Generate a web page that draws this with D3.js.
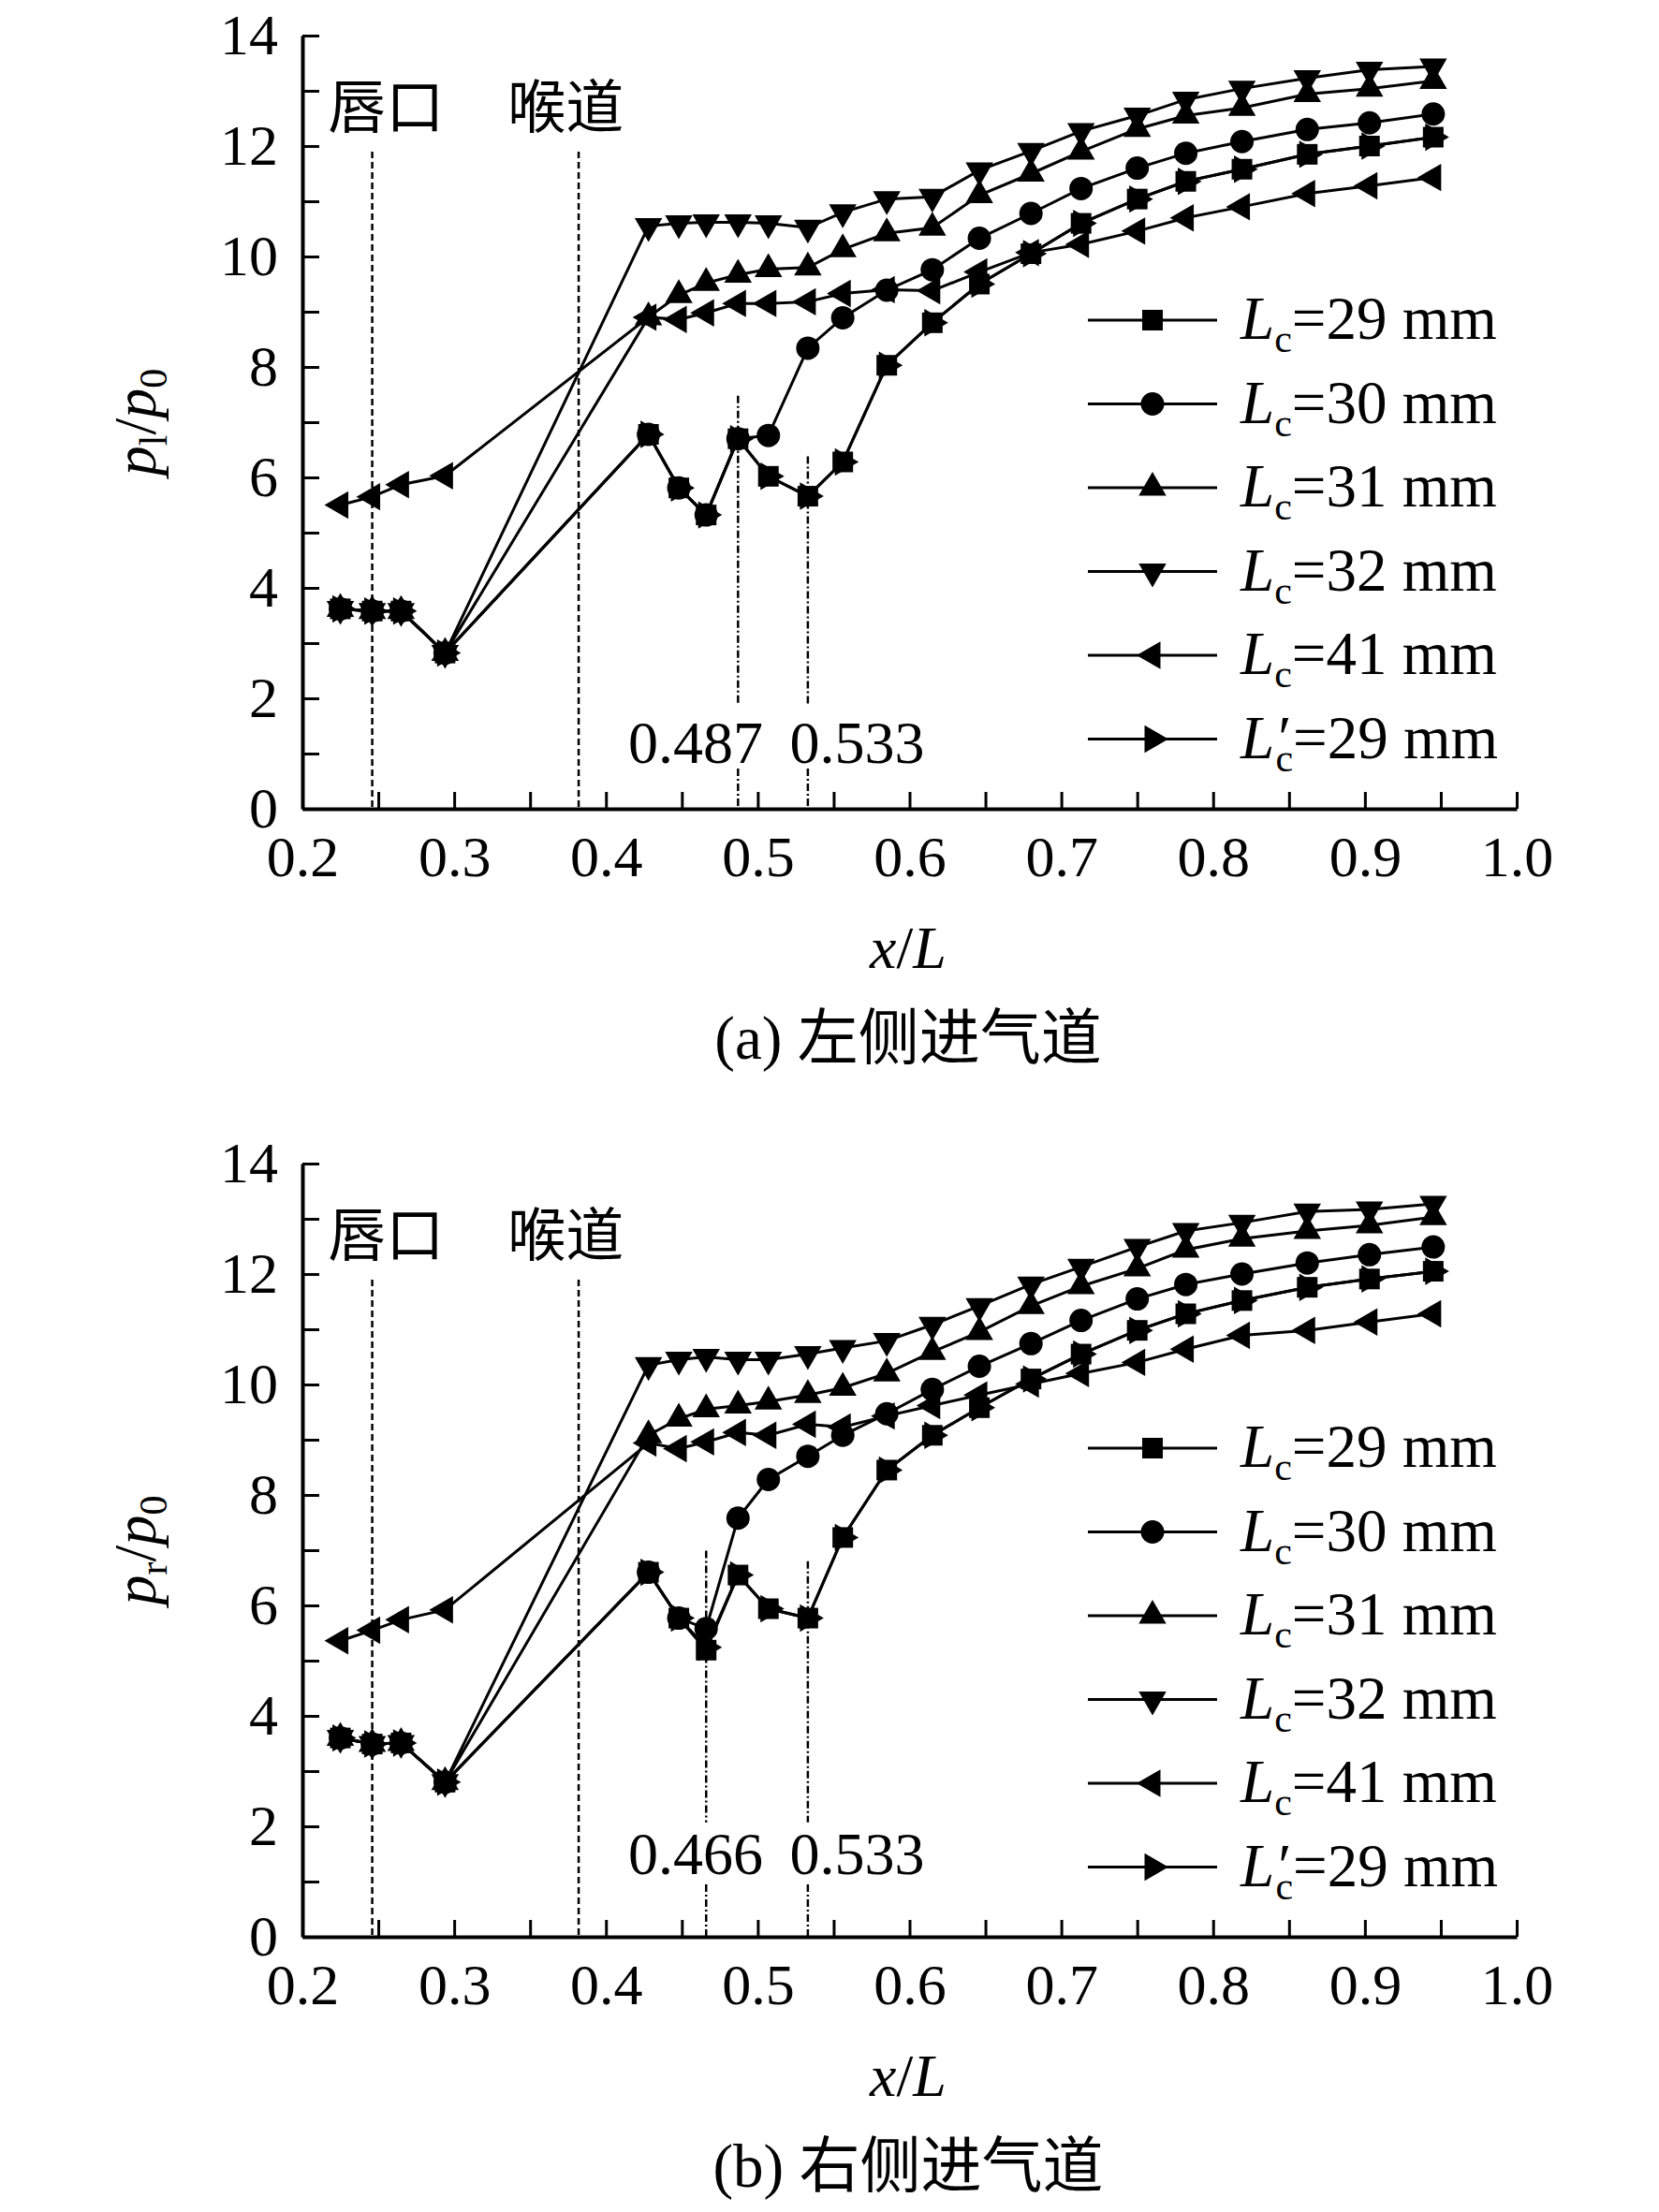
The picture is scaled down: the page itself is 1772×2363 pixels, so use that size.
<!DOCTYPE html>
<html>
<head>
<meta charset="utf-8">
<script src="https://cdnjs.cloudflare.com/ajax/libs/d3/7.8.5/d3.min.js"></script>
<style>
  body { margin: 0; background: #fff; }
  svg { display: block; }
  text { font-family: "Liberation Serif", "Times New Roman", "Noto Sans CJK SC", serif; fill: #000; }
</style>
</head>
<body>
<svg id="chart"></svg>
<script>
// measurement stations x/L (shared by every curve)
const xPos = [0.225, 0.246, 0.265, 0.294, 0.428, 0.448, 0.466, 0.487, 0.507, 0.533, 0.556,
              0.585, 0.615, 0.646, 0.680, 0.713, 0.750, 0.782, 0.819, 0.862, 0.903, 0.945]

// (a) left inlet, p_l/p_0
const left29  = [3.62, 3.58, 3.58, 2.82, 6.78, 5.81, 5.32, 6.70, 6.02, 5.66, 6.28, 8.03, 8.80, 9.50, 10.05, 10.60, 11.04, 11.36, 11.58, 11.85, 12.00, 12.16]
const left30  = [3.62, 3.58, 3.58, 2.82, 6.78, 5.81, 5.32, 6.70, 6.76, 8.34, 8.89, 9.39, 9.76, 10.33, 10.78, 11.23, 11.60, 11.87, 12.08, 12.30, 12.42, 12.58]
const left31  = [3.62, 3.58, 3.58, 2.82, 8.90, 9.30, 9.52, 9.67, 9.77, 9.80, 10.13, 10.42, 10.52, 11.11, 11.50, 11.90, 12.31, 12.55, 12.69, 12.94, 13.04, 13.18]
const left32  = [3.62, 3.58, 3.58, 2.82, 10.55, 10.60, 10.62, 10.62, 10.60, 10.52, 10.80, 11.04, 11.08, 11.56, 11.91, 12.27, 12.55, 12.84, 13.04, 13.23, 13.38, 13.44]
const left41  = [5.50, 5.65, 5.87, 6.03, 8.90, 8.86, 8.98, 9.15, 9.15, 9.18, 9.33, 9.40, 9.38, 9.72, 10.07, 10.22, 10.46, 10.70, 10.90, 11.14, 11.28, 11.43]
const left29p = [3.62, 3.58, 3.58, 2.82, 6.78, 5.81, 5.32, 6.70, 6.02, 5.66, 6.28, 8.03, 8.80, 9.50, 10.05, 10.60, 11.04, 11.36, 11.58, 11.85, 12.00, 12.16]

// (b) right inlet, p_r/p_0
const right29  = [3.60, 3.49, 3.51, 2.80, 6.60, 5.77, 5.19, 6.55, 5.94, 5.77, 7.23, 8.45, 9.08, 9.58, 10.10, 10.55, 10.98, 11.28, 11.52, 11.76, 11.91, 12.05]
const right30  = [3.60, 3.49, 3.51, 2.80, 6.60, 5.77, 5.58, 7.58, 8.28, 8.70, 9.08, 9.47, 9.91, 10.33, 10.74, 11.16, 11.55, 11.81, 12.00, 12.20, 12.35, 12.49]
const right31  = [3.60, 3.49, 3.51, 2.80, 9.08, 9.38, 9.55, 9.62, 9.69, 9.81, 9.94, 10.20, 10.59, 10.95, 11.42, 11.78, 12.10, 12.44, 12.64, 12.78, 12.88, 13.03]
const right32  = [3.60, 3.49, 3.51, 2.80, 10.35, 10.45, 10.50, 10.45, 10.45, 10.55, 10.66, 10.79, 11.08, 11.42, 11.81, 12.13, 12.49, 12.78, 12.93, 13.13, 13.17, 13.27]
const right41  = [5.36, 5.55, 5.74, 5.92, 8.94, 8.84, 8.96, 9.13, 9.08, 9.28, 9.23, 9.43, 9.62, 9.81, 10.01, 10.20, 10.40, 10.64, 10.89, 10.98, 11.13, 11.28]
const right29p = [3.60, 3.49, 3.51, 2.80, 6.60, 5.77, 5.24, 6.55, 5.94, 5.77, 7.23, 8.45, 9.08, 9.58, 10.10, 10.55, 10.98, 11.28, 11.52, 11.76, 11.91, 12.05]

// legend entries: Lc value, primed or not, marker
const legendLc    = ['29', '30', '31', '32', '41', '29']
const legendPrime = [false, false, false, false, false, true]
const markerTypes = ['square', 'circle', 'up', 'down', 'left', 'right']

const xTicks = [0.2, 0.3, 0.4, 0.5, 0.6, 0.7, 0.8, 0.9, 1.0]
const yTicks = [0, 2, 4, 6, 8, 10, 12, 14]

// reference lines: lip and throat (dashed), shock positions (dash-dot)
const stationNames = ['唇口', '喉道']
const stationX = [0.246, 0.382]
const stationNameX = [0.255, 0.3735]

const W = 1772, H = 2363

const svg = d3.select('#chart').attr('width', W).attr('height', H)
svg.append('rect').attr('width', W).attr('height', H).attr('fill', '#fff')

const panels = [
  { top: 38, series: [left29, left30, left31, left32, left41, left29p],
    shockX: [0.487, 0.533], shockTop: [7.48, 6.38], shockLabelY: 0.83, gap: [0.73, 1.9],
    sub: 'l', caption: '(a) 左侧进气道' },
  { top: 1243, series: [right29, right30, right31, right32, right41, right29p],
    shockX: [0.466, 0.533], shockTop: [6.99, 6.80], shockLabelY: 1.14, gap: [0.95, 2.07],
    sub: 'r', caption: '(b) 右侧进气道' }
]

function markerPath(type) {
  if (type === 'square') return 'M-11,-11H11V11H-11Z'
  if (type === 'circle') return 'M12.5,0A12.5,12.5 0 1,1 -12.5,0A12.5,12.5 0 1,1 12.5,0Z'
  const r = 17
  const pts = [[0, -r], [r * 0.866, r * 0.5], [-r * 0.866, r * 0.5]]
  const ang = { up: 0, down: 180, left: -90, right: 90 }[type] * Math.PI / 180
  return 'M' + pts.map(([px, py]) => [
    (px * Math.cos(ang) - py * Math.sin(ang)).toFixed(2),
    (px * Math.sin(ang) + py * Math.cos(ang)).toFixed(2)
  ].join(',')).join('L') + 'Z'
}

panels.forEach(p => {
  const x = d3.scaleLinear().domain([0.2, 1.0]).range([323, 1620])
  const y = d3.scaleLinear().domain([0, 14]).range([p.top + 826, p.top])
  const g = svg.append('g')

  // axes, ticks pointing inward
  const xAxis = d3.axisBottom(x)
    .tickValues(d3.range(0, 17).map(i => 0.2 + i * 0.05))
    .tickSizeInner(-18).tickSizeOuter(0).tickPadding(28)
    .tickFormat(d => xTicks.some(t => Math.abs(t - d) < 1e-6) ? d3.format('.1f')(d) : '')
  const yAxis = d3.axisLeft(y)
    .tickValues(d3.range(0, 15))
    .tickSizeInner(-18).tickSizeOuter(0).tickPadding(26)
    .tickFormat(d => yTicks.includes(d) ? d : '')

  const gx = g.append('g').attr('transform', `translate(0,${y(0)})`).call(xAxis)
  const gy = g.append('g').attr('transform', `translate(${x(0.2)},0)`).call(yAxis)
  ;[gx, gy].forEach(a => {
    a.select('.domain').attr('stroke', '#000').attr('stroke-width', 4)
    a.selectAll('.tick line').attr('stroke', '#000').attr('stroke-width', 3)
    a.selectAll('.tick text').attr('font-size', 62).attr('font-family', '"Liberation Serif", serif').attr('fill', '#000')
  })

  // axis titles
  g.append('text').attr('x', 970).attr('y', y(0) + 170).attr('text-anchor', 'middle').attr('font-size', 64)
    .call(t => {
      t.append('tspan').attr('font-style', 'italic').text('x')
      t.append('tspan').text('/')
      t.append('tspan').attr('font-style', 'italic').text('L')
    })
  g.append('text').attr('transform', `translate(166,${(y(0) + y(14)) / 2}) rotate(-90)`)
    .attr('text-anchor', 'middle').attr('font-size', 64)
    .call(t => {
      t.append('tspan').attr('font-style', 'italic').text('p')
      t.append('tspan').attr('font-size', 42).attr('dy', 12).text(p.sub)
      t.append('tspan').attr('dy', -12).text('/')
      t.append('tspan').attr('font-style', 'italic').text('p')
      t.append('tspan').attr('font-size', 42).attr('dy', 12).text('0')
    })

  // caption
  g.append('text').attr('x', 970).attr('y', y(0) + 267).attr('text-anchor', 'middle')
    .attr('font-size', 65).text(p.caption)

  // lip / throat dashed lines
  stationX.forEach((sx, i) => {
    g.append('line').attr('x1', x(sx)).attr('x2', x(sx)).attr('y1', y(11.9)).attr('y2', y(0))
      .attr('stroke', '#000').attr('stroke-width', 2.5).attr('stroke-dasharray', '7,4')
    g.append('text').attr('x', x(stationNameX[i])).attr('y', y(12.33)).attr('text-anchor', 'middle')
      .attr('font-size', 62).attr('font-family', '"Noto Sans CJK SC", sans-serif').text(stationNames[i])
  })

  // shock position dash-dot lines, broken around their labels
  p.shockX.forEach((sx, i) => {
    const segs = [[p.shockTop[i], p.gap[1]], [p.gap[0], 0]]
    segs.forEach(([a, b]) => {
      g.append('line').attr('x1', x(sx)).attr('x2', x(sx)).attr('y1', y(a)).attr('y2', y(b))
        .attr('stroke', '#000').attr('stroke-width', 2.5).attr('stroke-dasharray', '8,3,2,3')
    })
  })
  const labX = [0.459, 0.5655]
  p.shockX.forEach((sx, i) => {
    g.append('text').attr('x', x(labX[i])).attr('y', y(p.shockLabelY)).attr('text-anchor', 'middle')
      .attr('font-size', 64).text(d3.format('.3f')(sx))
  })

  // curves
  const line = d3.line().x((d, i) => x(xPos[i])).y(d => y(d))
  p.series.forEach((vals, s) => {
    g.append('path').datum(vals).attr('d', line).attr('fill', 'none')
      .attr('stroke', '#000').attr('stroke-width', 3)
    g.selectAll(null).data(vals).join('path')
      .attr('d', markerPath(markerTypes[s]))
      .attr('transform', (d, i) => `translate(${x(xPos[i])},${y(d)})`)
      .attr('fill', '#000')
  })

  // legend
  legendLc.forEach((lc, i) => {
    const ly = p.top + 304 + i * 89.5
    const lg = g.append('g').attr('transform', `translate(0,${ly})`)
    lg.append('line').attr('x1', 1162).attr('x2', 1300).attr('stroke', '#000').attr('stroke-width', 3)
    lg.append('path').attr('d', markerPath(markerTypes[i])).attr('transform', 'translate(1231,0)').attr('fill', '#000')
    const t = lg.append('text').attr('x', 1325).attr('y', 20).attr('font-size', 65)
    t.append('tspan').attr('font-style', 'italic').text('L')
    if (legendPrime[i]) {
      t.append('tspan').attr('font-style', 'italic').text('\u2032')
      t.append('tspan').attr('font-size', 42).attr('dy', 14).attr('dx', -13).text('c')
    } else {
      t.append('tspan').attr('font-size', 42).attr('dy', 14).text('c')
    }
    t.append('tspan').attr('dy', -14).text('=' + lc + ' mm')
  })
})
</script>
</body>
</html>
